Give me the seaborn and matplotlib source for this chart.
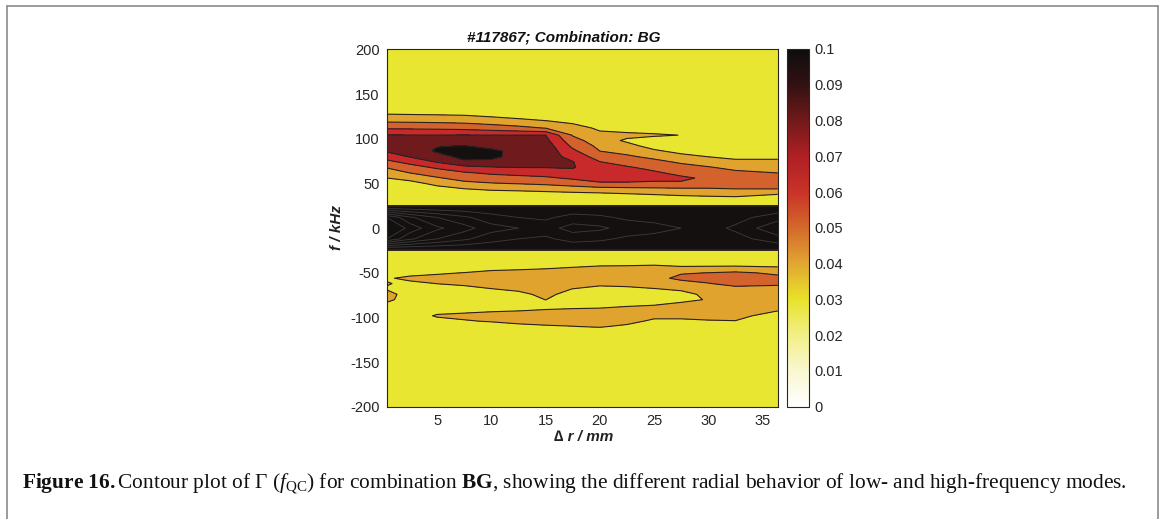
import numpy as np
import matplotlib
matplotlib.use("Agg")
import matplotlib.pyplot as plt
import seaborn as sns
from matplotlib.colors import Normalize
from matplotlib.cm import ScalarMappable
from matplotlib.lines import Line2D

# ---------------- data ----------------
# radial separation (mm), one value per grid column
X_MM = [0.36, 2.5, 5, 7.5, 10, 12.5, 15, 17.5, 20, 22.5, 25, 27.5, 30, 32.5, 36.4]
# frequency (kHz), one value per grid row, top -> bottom
F_KHZ = [200, 136, 128, 120, 112, 104, 98, 92, 86, 80, 74, 68, 62, 56, 50, 44, 38, 32, 25,
         23.5, 12, 0, -12, -23,
         -24.5, -30, -38, -44, -50, -56, -62, -68, -74, -80, -86, -92, -98, -104, -110, -116, -124, -200]
# Gamma(f_QC) x 1000, one row per F_KHZ entry
G_200 = [33] * 15
G_136 = [33] * 15
G_128 = [39.4, 39.0, 38.6, 38.1, 36.3, 34, 33, 33, 33, 33, 33, 33, 33, 33, 33]
G_120 = [48.2, 47.9, 47.4, 46.6, 44.7, 42.7, 40.2, 37.7, 33, 33, 33, 33, 33, 33, 33]
G_112 = [58.6, 58.4, 57.9, 57.1, 55, 52.6, 49.6, 43.5, 38.5, 35.5, 34, 34, 33, 33, 33]
G_104 = [70.4, 70.2, 70.2, 70.3, 70.2, 70.1, 70.1, 49.3, 42.1, 42.5, 41.5, 39.8, 36, 34, 33]
G_98 = [75.5, 74.6, 74.9, 75.3, 74, 72.6, 72.7, 53.6, 44.7, 38.5, 35, 35, 34, 33, 33]
G_92 = [75.6, 79, 79.6, 80.2, 77.8, 75.1, 75.3, 57.9, 47.4, 43, 36.5, 35, 34, 33, 33]
G_86 = [70.8, 74.8, 81.2, 84.6, 81.7, 77.6, 76.3, 62.3, 50.1, 47.1, 41.7, 37.5, 35.5, 34, 34]
G_80 = [64.3, 70.7, 75.9, 83.3, 83, 75.7, 74.3, 67, 55.2, 51.5, 47.6, 42.8, 39.8, 37.6, 38]
G_74 = [57.4, 62.9, 70.6, 78, 77.3, 73, 72.3, 70.4, 60.3, 56.4, 52.8, 48.6, 45.3, 42.4, 42]
G_68 = [50.6, 56, 61.6, 67.1, 69.4, 70.2, 70.3, 71, 61.7, 60.9, 57.6, 53.5, 50.7, 47.3, 46]
G_62 = [45.2, 50.3, 55, 59.1, 61.9, 63.5, 64.7, 66.5, 62, 62.5, 61.2, 57.6, 54, 52, 49.8]
G_56 = [39.9, 44, 49, 53.6, 55.5, 56.8, 58.3, 61.5, 61.5, 61.5, 61.5, 61.5, 58.5, 55.5, 53.7]
G_50 = [35, 36, 43.2, 47.5, 49.4, 50.5, 51.8, 54.3, 59.5, 59.5, 59, 59, 55, 54.5, 54.5]
G_44 = [33, 33, 36, 39.9, 41.9, 43.1, 44.3, 45.7, 46.4, 47.3, 48.1, 48.8, 49.4, 50.1, 50.2]
G_38 = [33, 33, 33, 34, 35, 35, 36, 37, 38, 39.3, 40.6, 41.8, 42.8, 43.2, 40.2]
G_32 = [33, 33, 33, 33, 33, 33, 33, 33, 33, 33, 33, 35, 35.5, 36.4, 35]
G_25 = [33] * 15
G_P23 = [230] * 15
G_P12 = [520, 430, 370, 330, 290, 270, 260, 290, 280, 260, 250, 240, 230, 250, 300]
G_0 = [600, 500, 430, 390, 340, 320, 300, 340, 330, 300, 290, 270, 250, 280, 360]
G_M12 = [520, 430, 370, 330, 290, 270, 260, 290, 280, 260, 250, 240, 230, 250, 300]
G_M23 = [230] * 15
G_M24 = [33] * 15
G_M30 = [33] * 15
G_M38 = [33, 33, 33, 33, 34, 35, 36, 37, 37.5, 38, 38, 38, 38, 38, 37.5]
G_M44 = [34, 34, 35, 36, 38, 38.5, 39.2, 40.1, 41, 41, 41.5, 40.5, 40.6, 40.7, 40.3]
G_M50 = [37, 37, 39, 40.2, 41.5, 42, 42.5, 43, 43.5, 43.5, 45, 49, 50.2, 52, 48]
G_M56 = [39, 42, 42.5, 43, 43.5, 44, 44, 44, 44, 44, 46, 53, 54, 55, 53]
G_M62 = [40.6, 38, 40.1, 41.5, 43, 43.5, 44, 43, 41.5, 42, 43, 45, 49.5, 53, 52]
G_M68 = [39.2, 35, 37, 37.5, 39.8, 41.5, 43, 39.9, 38, 38.5, 39.7, 41, 45, 47, 46]
G_M74 = [44, 35, 35, 35, 36, 38, 42, 37, 35.5, 36, 37, 38, 41.5, 44, 43]
G_M80 = [43, 34, 34, 34, 35, 36, 40.1, 36, 35, 36, 38, 38.5, 40.4, 43, 42]
G_M86 = [37, 33, 34, 35, 36, 37, 37.5, 38, 38, 39.3, 39.9, 41.5, 42, 43, 41.5]
G_M92 = [34, 33, 37, 38, 39, 39.7, 40.5, 41, 41.5, 42, 42.5, 43, 43, 43, 40.3]
G_M98 = [34, 35, 41, 42, 43, 43, 43.5, 43.5, 43.5, 43.5, 42, 42, 42, 42, 37]
G_M104 = [33, 33, 37, 39.3, 40.6, 42, 43, 43, 43.5, 42.5, 38.5, 38.5, 39.5, 39.8, 34]
G_M110 = [33, 33, 34, 34, 36, 38, 39, 39.8, 40.7, 38.5, 35, 34, 35, 35, 33]
G_M116 = [33, 33, 33, 33, 33, 34, 34, 34, 36, 34, 33, 33, 33, 33, 33]
G_M124 = [33] * 15
G_M200 = [33] * 15

GAMMA_ROWS = [G_200, G_136, G_128, G_120, G_112, G_104, G_98, G_92, G_86, G_80, G_74, G_68,
              G_62, G_56, G_50, G_44, G_38, G_32, G_25,
              G_P23, G_P12, G_0, G_M12, G_M23,
              G_M24, G_M30, G_M38, G_M44, G_M50, G_M56, G_M62, G_M68, G_M74, G_M80, G_M86,
              G_M92, G_M98, G_M104, G_M110, G_M116, G_M124, G_M200]

FILL_LEVELS = [0.03, 0.04, 0.05, 0.06, 0.07, 0.08, 1.0]
LINE_LEVELS = [0.04, 0.05, 0.06, 0.07, 0.08]
INNER_LEVELS = [0.27, 0.32, 0.37, 0.42, 0.47, 0.52]
X_TICKS = [5, 10, 15, 20, 25, 30, 35]
Y_TICKS = [-200, -150, -100, -50, 0, 50, 100, 150, 200]
CBAR_TICKS = [0, 0.01, 0.02, 0.03, 0.04, 0.05, 0.06, 0.07, 0.08, 0.09, 0.1]
CBAR_LABELS = ["0", "0.01", "0.02", "0.03", "0.04", "0.05", "0.06", "0.07", "0.08", "0.09", "0.1"]

TITLE = "#117867; Combination: BG"
XLABEL = "\u2206 r / mm"
YLABEL = "f / kHz"
CAPTION = (r"$\mathbf{Figure\ 16.}$Contour plot of $\mathit{Γ}\ (f_{\mathrm{QC}})$ for combination "
           r"$\mathbf{BG}$, showing the different radial behavior of low- and high-frequency modes.")

# ---------------- styling ----------------
FILL_COLORS = ["#E8E630", "#E0A42E", "#D3622D", "#C8292A", "#6F1B1E", "#151010"]
CMAP_COLORS = ["#FFFFFF", "#F9F7CF", "#F2EF86", "#E8E22A", "#E2A632", "#D4682A",
               "#C93328", "#B01F24", "#721A1A", "#331112", "#0E0E0E"]

sns.set_theme(style="white")
plt.rcParams["font.family"] = ["Liberation Sans", "DejaVu Sans"]
plt.rcParams["axes.unicode_minus"] = False
plt.rcParams["mathtext.fontset"] = "custom"
plt.rcParams["mathtext.rm"] = "Liberation Serif"
plt.rcParams["mathtext.it"] = "Liberation Serif:italic"
plt.rcParams["mathtext.bf"] = "Liberation Serif:bold"

W, H = 1165, 519
fig = plt.figure(figsize=(W / 100, H / 100), dpi=100)
fig.patch.set_facecolor("white")

def fx(px):
    return px / W

def fy(py):
    return 1 - py / H

ax = fig.add_axes([fx(386.7), fy(407.0), fx(777.7) - fx(386.7), fy(49.3) - fy(407.0)])

x = np.array(X_MM, dtype=float)
f = np.array(F_KHZ, dtype=float)[::-1]
Z = (np.array(GAMMA_ROWS, dtype=float) / 1000.0)[::-1, :]

ax.contourf(x, f, Z, levels=FILL_LEVELS, colors=FILL_COLORS)
ax.contour(x, f, Z, levels=INNER_LEVELS, colors="#3c3c3c", linewidths=0.6)
ax.contour(x, f, Z, levels=LINE_LEVELS, colors="#2a2222", linewidths=0.8)

ax.set_xlim(0.36, 36.4)
ax.set_ylim(-200, 200)
ax.set_xticks(X_TICKS)
ax.set_yticks(Y_TICKS)
ax.tick_params(direction="in", top=True, right=True, length=4, width=0.7,
               labelsize=10.5, colors="#262626", pad=5)
for s in ax.spines.values():
    s.set_color("#262626")
    s.set_linewidth(0.8)

fig.text(fx(564), fy(38), TITLE, ha="center", va="center", fontsize=11,
         fontweight="bold", fontstyle="italic", color="#111111")
fig.text(fx(337), fy(228), YLABEL, ha="center", va="center", rotation=90,
         fontsize=11, fontweight="bold", fontstyle="italic", color="#222222")
fig.text(fx(584), fy(437), XLABEL, ha="center", va="center",
         fontsize=11, fontweight="bold", fontstyle="italic", color="#222222")

# colorbar
cmap = sns.blend_palette(CMAP_COLORS, n_colors=256, as_cmap=True)
cax = fig.add_axes([fx(786.7), fy(406.7), fx(809.3) - fx(786.7), fy(49.0) - fy(406.7)])
sm = ScalarMappable(norm=Normalize(0, 0.1), cmap=cmap)
cb = fig.colorbar(sm, cax=cax, ticks=CBAR_TICKS)
cb.ax.set_yticklabels(CBAR_LABELS)
cb.ax.tick_params(direction="in", length=4, width=0.7, labelsize=10.5, colors="#262626", pad=4)
cb.outline.set_linewidth(0.8)
cb.outline.set_edgecolor("#262626")

# caption
fig.text(fx(22), fy(484), CAPTION, ha="left", va="center", fontsize=15.4,
         family=["Liberation Serif", "DejaVu Serif"], color="#111111")

# page frame
frame = dict(color="#8a8a8a", linewidth=1.2, transform=fig.transFigure)
fig.add_artist(Line2D([fx(7), fx(7)], [0, fy(6)], **frame))
fig.add_artist(Line2D([fx(7), fx(1158)], [fy(6), fy(6)], **frame))
fig.add_artist(Line2D([fx(1158), fx(1158)], [0, fy(6)], **frame))

fig.savefig("out.png", dpi=100)
